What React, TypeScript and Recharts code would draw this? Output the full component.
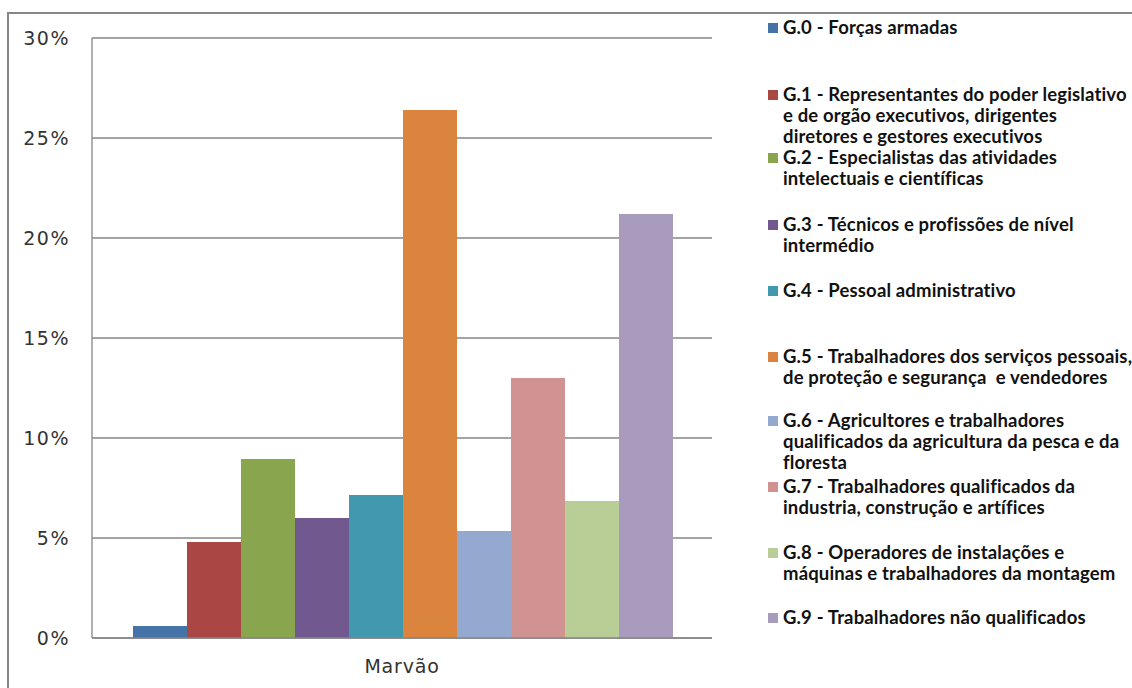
import { BarChart, Bar, XAxis, YAxis, CartesianGrid, Legend } from "recharts";

// one group of bars per place, one series per occupational group
const CATEGORIES = ["Marvão"];

const GROUP_KEYS = ["g0", "g1", "g2", "g3", "g4", "g5", "g6", "g7", "g8", "g9"];

const GROUP_NAMES = [
  "G.0 - Forças armadas",
  "G.1 - Representantes do poder legislativo\ne de orgão executivos, dirigentes\ndiretores e gestores executivos",
  "G.2 - Especialistas das atividades\nintelectuais e científicas",
  "G.3 - Técnicos e profissões de nível\nintermédio",
  "G.4 - Pessoal administrativo",
  "G.5 - Trabalhadores dos serviços pessoais,\nde proteção e segurança  e vendedores",
  "G.6 - Agricultores e trabalhadores\nqualificados da agricultura da pesca e da\nfloresta",
  "G.7 - Trabalhadores qualificados da\nindustria, construção e artífices",
  "G.8 - Operadores de instalações e\nmáquinas e trabalhadores da montagem",
  "G.9 - Trabalhadores não qualificados",
];

// share of employed population in Marvão, per group
const MARVAO_VALUES = [0.006, 0.048, 0.0895, 0.06, 0.0715, 0.264, 0.0535, 0.13, 0.0685, 0.212];

const GROUP_COLORS = [
  "#4572A7", "#AA4643", "#89A54E", "#71588F", "#4198AF",
  "#DB843D", "#93A9CF", "#D19392", "#B9CD96", "#A99BBD",
];

const Y_TICKS = [0, 0.05, 0.1, 0.15, 0.2, 0.25, 0.3];

const SERIES_BY_CATEGORY = [MARVAO_VALUES];

const data = CATEGORIES.map((name, ci) => {
  const row: Record<string, string | number> = { name };
  GROUP_KEYS.forEach((k, i) => {
    row[k] = SERIES_BY_CATEGORY[ci][i];
  });
  return row;
});

// first-line centre of each legend entry
const LEGEND_TOPS = [28, 95, 158, 225, 291, 357, 421, 487, 553, 618];

const LegendContent = ({ payload }: any) => (
  <div style={{ position: "relative", width: 364, height: 688 }}>
    {(payload || []).map((entry: any, i: number) => (
      <div
        key={entry.value}
        style={{
          position: "absolute",
          left: 0,
          top: LEGEND_TOPS[i] - 11,
          display: "flex",
          alignItems: "flex-start",
        }}
      >
        <span
          style={{
            width: 10,
            height: 10,
            marginTop: 6,
            marginRight: 5,
            background: entry.color,
            flexShrink: 0,
          }}
        />
        <span
          style={{
            whiteSpace: "pre",
            fontFamily: "Lato, 'Open Sans', sans-serif",
            fontWeight: 700,
            fontSize: 18.5,
            letterSpacing: 0.15,
            lineHeight: "21px",
            color: "#111",
          }}
        >
          {entry.value}
        </span>
      </div>
    ))}
  </div>
);

export default function App() {
  return (
    <div
      style={{
        position: "fixed",
        left: 0,
        top: 0,
        width: 1132,
        height: 688,
        background: "#fff",
        overflow: "hidden",
      }}
    >
      <div
        style={{
          position: "absolute",
          left: 7,
          top: 12,
          width: 1200,
          height: 800,
          borderLeft: "2px solid #878787",
          borderTop: "2px solid #878787",
        }}
      />
      <BarChart
        width={1132}
        height={688}
        data={data}
        margin={{ top: 38, right: 56, bottom: 20, left: 0 }}
        barCategoryGap={41}
        barGap={0}
      >
        <CartesianGrid vertical={false} stroke="#868686" strokeWidth={1.3} />
        <XAxis
          dataKey="name"
          height={30}
          axisLine={{ stroke: "#868686", strokeWidth: 1.3 }}
          tickLine={false}
          tickSize={0}
          tickMargin={22}
          tick={{ fill: "#333", fontSize: 19, fontFamily: "'DejaVu Sans', sans-serif", letterSpacing: 0.8 }}
        />
        <YAxis
          width={92}
          domain={[0, 0.3]}
          ticks={Y_TICKS}
          interval={0}
          axisLine={{ stroke: "#868686", strokeWidth: 1.3 }}
          tickLine={false}
          tickSize={0}
          tickMargin={22}
          tickFormatter={(v: number) => `${Math.round(v * 100)}%`}
          tick={{ fill: "#333", fontSize: 19, fontFamily: "'DejaVu Sans', sans-serif", letterSpacing: 1.5 }}
        />
        <Legend
          layout="vertical"
          verticalAlign="top"
          align="right"
          content={<LegendContent />}
          wrapperStyle={{ left: 768, top: 0, width: 364, height: 688 }}
        />
        {GROUP_KEYS.map((k, i) => (
          <Bar
            key={k}
            dataKey={k}
            name={GROUP_NAMES[i]}
            fill={GROUP_COLORS[i]}
            isAnimationActive={false}
          />
        ))}
      </BarChart>
    </div>
  );
}
